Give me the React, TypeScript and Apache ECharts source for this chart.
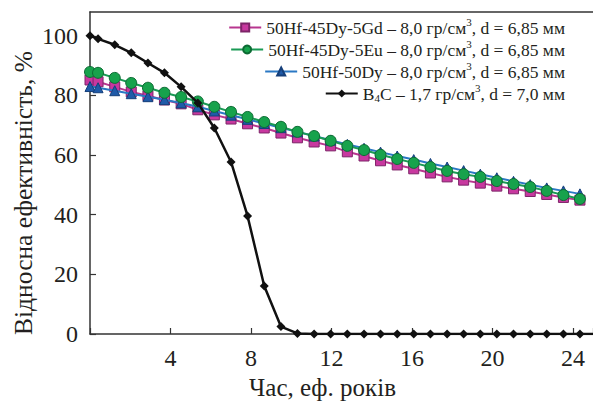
import React, { useEffect, useRef } from "react";
import * as echarts from "echarts";

const TIME = [0, 0.4, 1.23, 2.05, 2.88, 3.7, 4.53, 5.36, 6.18, 7.01, 7.83, 8.66, 9.49, 10.31, 11.14, 11.96, 12.79, 13.62, 14.44, 15.27, 16.09, 16.92, 17.75, 18.57, 19.4, 20.22, 21.05, 21.88, 22.7, 23.53, 24.35, 25.18];

const GD = [85.2, 84.6, 82.9, 81.2, 79.9, 78.5, 77.2, 75.2, 73.5, 72.1, 70.5, 69.1, 67.4, 65.8, 64.4, 63.1, 61.1, 59.7, 58.1, 56.7, 55.4, 54.0, 52.7, 51.6, 50.6, 49.6, 48.7, 47.8, 46.8, 45.8, 44.9];
const EU = [87.9, 87.6, 85.9, 84.2, 82.6, 80.9, 79.5, 78.0, 76.2, 74.5, 72.8, 71.1, 69.5, 67.8, 66.4, 64.8, 63.1, 61.7, 60.1, 58.7, 57.4, 56.0, 54.7, 53.6, 52.7, 51.3, 50.3, 49.3, 48.0, 46.6, 45.3];
const DY = [83.0, 82.6, 81.6, 80.6, 79.6, 78.6, 77.5, 76.2, 74.8, 73.4, 72.0, 70.6, 69.2, 67.8, 66.4, 65.0, 63.6, 62.3, 61.0, 59.7, 58.5, 57.2, 56.0, 54.8, 53.6, 52.4, 51.2, 50.1, 49.0, 48.0, 47.0];
const B4C = [100, 99, 97, 94.3, 90.9, 87.6, 82.9, 77.5, 69.1, 57.7, 39.6, 16.1, 2.5, 0.2, 0, 0, 0, 0, 0, 0, 0, 0, 0, 0, 0, 0, 0, 0, 0, 0, 0, 0];

const NAMES = [
  "50Hf-45Dy-5Gd – 8,0 гр/см3, d = 6,85 мм",
  "50Hf-45Dy-5Eu – 8,0 гр/см3, d = 6,85 мм",
  "50Hf-50Dy – 8,0 гр/см3, d = 6,85 мм",
  "B4C – 1,7 гр/см3, d = 7,0 мм",
];

const X_TICKS = [4, 8, 12, 16, 20, 24];
const Y_TICKS = [0, 20, 40, 60, 80, 100];
const X_TITLE = "Час, еф. років";
const Y_TITLE = "Відносна ефективність, %";

const FONT = "Liberation Serif";
const INK = "#231f20";

function pairs(vals: number[]) {
  return vals.map((v, i) => [TIME[i], v]);
}

function richName(name: string) {
  return name.replace("см3", "см{sup|3}").replace(/^B4C/, "B{sub|4}C");
}

export default function App() {
  const ref = useRef<HTMLDivElement>(null);
  useEffect(() => {
    if (!ref.current) return;
    const chart = echarts.init(ref.current, null, { renderer: "svg" });
    const legendCenters = [27, 49, 71, 93];
    chart.setOption({
      animation: false,
      backgroundColor: "#ffffff",
      textStyle: { fontFamily: FONT, color: INK },
      grid: { left: 90, right: 0, top: 12, bottom: 68, outerBoundsMode: "none", containLabel: false },
      graphic: [
        {
          type: "text",
          x: 23,
          y: 193,
          rotation: Math.PI / 2,
          style: {
            text: Y_TITLE,
            fontFamily: FONT,
            fontSize: 25.5,
            fill: INK,
            textAlign: "center",
            textVerticalAlign: "middle",
          },
        },
      ],
      legend: NAMES.map((n, i) => ({
        data: [n],
        right: 28,
        top: legendCenters[i] - 11,
        padding: 0,
        itemWidth: 32,
        itemHeight: 10,
        itemGap: 0,
        selectedMode: false,
        formatter: richName,
        textStyle: {
          fontFamily: FONT,
          fontSize: 17.5,
          color: INK,
          lineHeight: 22,
          rich: {
            sup: { fontFamily: FONT, fontSize: 11, color: INK, lineHeight: 22, padding: [0, 0, 12, 0] },
            sub: { fontFamily: FONT, fontSize: 11, color: INK, lineHeight: 22, padding: [8, 0, 0, 0] },
          },
        },
      })),
      xAxis: [
        {
          type: "value",
          min: 0,
          max: 25,
          interval: 4,
          position: "bottom",
          name: X_TITLE,
          nameLocation: "middle",
          nameGap: 41,
          nameTextStyle: { fontFamily: FONT, fontSize: 25, color: INK, padding: [0, 38, 0, 0] },
          axisLine: { show: true, lineStyle: { color: "#333", width: 1.5 } },
          axisTick: { show: true, inside: true, length: 6, lineStyle: { color: "#333", width: 1.2 } },
          axisLabel: {
            fontFamily: FONT,
            fontSize: 24,
            color: INK,
            margin: 12,
            formatter: (v: number) => (X_TICKS.includes(v) ? String(v) : ""),
          },
          splitLine: { show: false },
        },
        {
          type: "value",
          min: 0,
          max: 25,
          position: "top",
          axisLine: { show: true, lineStyle: { color: "#333", width: 1.5 } },
          axisTick: { show: false },
          axisLabel: { show: false },
          splitLine: { show: false },
        },
      ],
      yAxis: {
        type: "value",
        min: 0,
        max: 108,
        interval: 20,
        axisLine: { show: true, lineStyle: { color: "#333", width: 1.5 } },
        axisTick: { show: true, inside: true, length: 6, lineStyle: { color: "#333", width: 1.2 } },
        axisLabel: {
          fontFamily: FONT,
          fontSize: 24,
          color: INK,
          margin: 12,
          showMaxLabel: false,
          formatter: (v: number) => (Y_TICKS.includes(v) ? String(v) : ""),
        },
        splitLine: { show: false },
      },
      series: [
        {
          name: NAMES[0],
          type: "line",
          data: pairs(GD),
          symbol: "rect",
          symbolSize: 10,
          z: 2,
          lineStyle: { color: "#b8368f", width: 2 },
          itemStyle: { color: "#c8389f", borderColor: "#7d2468", borderWidth: 1 },
        },
        {
          name: NAMES[1],
          type: "line",
          data: pairs(EU),
          symbol: "circle",
          symbolSize: 11,
          z: 4,
          lineStyle: { color: "#1a9a55", width: 2 },
          itemStyle: { color: "#17a24c", borderColor: "#0c6a33", borderWidth: 1 },
        },
        {
          name: NAMES[2],
          type: "line",
          data: pairs(DY),
          symbol: "triangle",
          symbolSize: 10,
          z: 3,
          lineStyle: { color: "#2a78c4", width: 2 },
          itemStyle: { color: "#1f5aa8", borderColor: "#153f7a", borderWidth: 1 },
        },
        {
          name: NAMES[3],
          type: "line",
          data: pairs(B4C),
          symbol: "diamond",
          symbolSize: 9,
          z: 5,
          clip: true,
          lineStyle: { color: "#111111", width: 2.5 },
          itemStyle: { color: "#111111" },
        },
      ],
    });
    return () => chart.dispose();
  }, []);
  return <div ref={ref} style={{ width: 593, height: 402, position: "absolute", left: 0, top: 0 }} />;
}
